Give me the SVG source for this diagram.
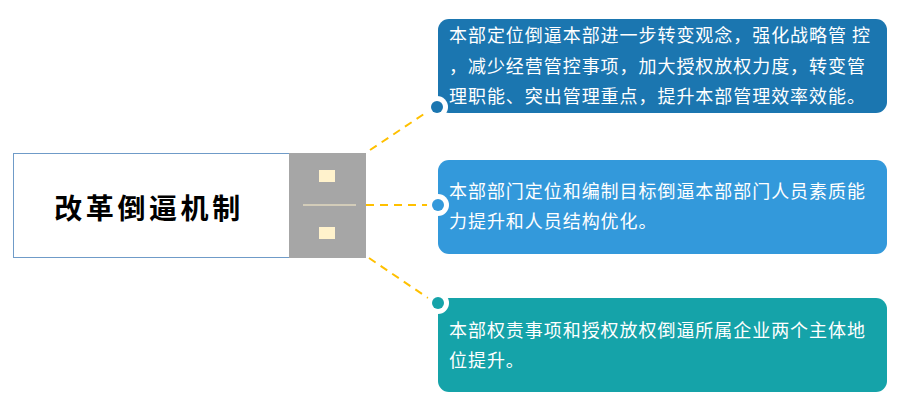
<svg xmlns="http://www.w3.org/2000/svg" width="914" height="410" viewBox="0 0 914 410">
<style>
.t{font-family:"Microsoft YaHei","Noto Sans CJK SC",sans-serif;font-size:18px;fill:#ffffff;letter-spacing:0.95px}
.c{fill:none;stroke:#ffc000;stroke-width:2;stroke-dasharray:8 6}
.ring{fill:#ffffff}
</style>
<rect width="914" height="410" fill="#ffffff"/>
<g id="main">
<rect x="13.5" y="153.5" width="276" height="104" fill="#ffffff" stroke="#6f9bc8" stroke-width="1"/>
<rect x="289" y="153" width="77" height="105" fill="#a6a6a6"/>
<rect x="319" y="170" width="16" height="12" fill="#fff2cc"/>
<rect x="319" y="227" width="16" height="12" fill="#fff2cc"/>
<line x1="303" y1="205" x2="356" y2="205" stroke="#fff2cc" stroke-width="1"/>
<text x="149" y="219" text-anchor="middle" font-family="&quot;Noto Sans CJK SC&quot;,sans-serif" font-size="28" font-weight="bold" letter-spacing="3.6" fill="#000000">改革倒逼机制</text>
</g>
<g id="connectors">
<line class="c" x1="370" y1="150" x2="427" y2="112"/>
<line class="c" x1="366" y1="205" x2="428" y2="205"/>
<line class="c" x1="369" y1="258" x2="428" y2="298"/>
</g>
<g id="node1">
<rect x="438" y="19" width="449" height="94" rx="11" fill="#1b76b0"/>
<circle class="ring" cx="437" cy="107" r="11"/>
<circle cx="437" cy="107" r="6" fill="#1b76b0"/>
<text class="t" x="449" y="42">本部定位倒逼本部进一步转变观念，强化战略管 控</text>
<text class="t" x="449" y="73">，减少经营管控事项，加大授权放权力度，转变管</text>
<text class="t" x="449" y="103">理职能、突出管理重点，提升本部管理效率效能。</text>
</g>
<g id="node2">
<rect x="438" y="160" width="449" height="94" rx="11" fill="#3399db"/>
<circle class="ring" cx="438" cy="205" r="11"/>
<circle cx="438" cy="205" r="6" fill="#3399db"/>
<text class="t" x="449" y="198">本部部门定位和编制目标倒逼本部部门人员素质能</text>
<text class="t" x="449" y="228">力提升和人员结构优化。</text>
</g>
<g id="node3">
<rect x="438" y="298" width="449" height="94" rx="11" fill="#15a3a9"/>
<circle class="ring" cx="438" cy="303" r="11"/>
<circle cx="438" cy="303" r="6" fill="#15a3a9"/>
<text class="t" x="449" y="337">本部权责事项和授权放权倒逼所属企业两个主体地</text>
<text class="t" x="449" y="367">位提升。</text>
</g>
</svg>
